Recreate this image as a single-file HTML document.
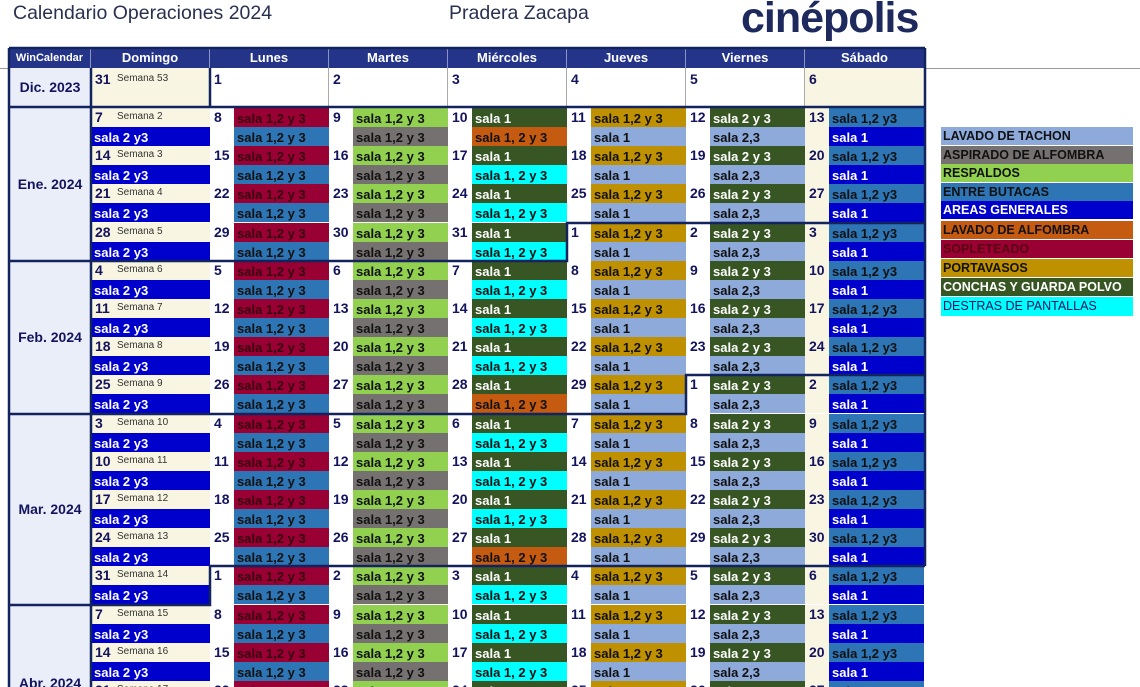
<!DOCTYPE html>
<html><head><meta charset="utf-8">
<style>
html,body{margin:0;width:1140px;height:687px;overflow:hidden}
body{background:#fff;font-family:"Liberation Sans",Arial,sans-serif;position:relative}
.a{position:absolute;box-sizing:border-box;white-space:nowrap;overflow:hidden}
.hd{background:#233489;color:#fff;font-weight:bold;font-size:13px;text-align:center;line-height:20px;border-right:1px solid #8a93c4}
.num{font-weight:bold;font-size:14px;color:#14145e;line-height:19px;padding-left:4px}
.bar{font-weight:bold;font-size:13px;line-height:21px;padding-left:3px}
.sem{font-size:10px;color:#333;line-height:15px;font-weight:normal}
.mon{background:#e9eef8;font-weight:bold;font-size:14px;color:#14145e;text-align:center}
.leg{left:941px;width:192px;height:18px;font-weight:bold;font-size:12.5px;line-height:19px;padding-left:2px}
</style></head><body>
<div class="a" style="left:13px;top:2px;font-size:19.5px;color:#2a3050">Calendario Operaciones 2024</div>
<div class="a" style="left:449px;top:2px;font-size:19.5px;color:#2a3050">Pradera Zacapa</div>
<div class="a" style="left:741px;top:-6px;font-size:43px;font-weight:bold;color:#1e2a5e;letter-spacing:-1px">cinépolis</div>
<div class="a" style="left:0;top:68px;width:1140px;height:1px;background:#999"></div>
<div id="cal"></div>
<div id="legend"></div>
<svg class="a" id="ov" style="left:0;top:0" width="1140" height="687"></svg>
<script>
const dayNames=["WinCalendar","Domingo","Lunes","Martes","Miércoles","Jueves","Viernes","Sábado"];
const weekStartDays=[7,14,21,28,4,11,18,25,3,10,17,24,31,7,14,21];
const weekNums=[2,3,4,5,6,7,8,9,10,11,12,13,14,15,16,17];
const weekMonthLen=[31,31,31,31,29,29,29,29,31,31,31,31,31,30,30,30];
const orangeWeeks=[0,7,11];
const monthLabels=[["Ene. 2024",0,4],["Feb. 2024",4,8],["Mar. 2024",8,13],["Abr. 2024",13,16]];
const topText=["sala 1,2 y 3","sala 1,2 y 3","sala 1","sala 1,2 y 3","sala 2 y 3","sala 1,2 y3"];
const topBg=["#990033","#92d050","#375623","#bf9000","#375623","#2e75b6"];
const topFg=["#3a0010","#111","#fff","#111","#fff","#111"];
const botText=["sala 1,2 y 3","sala 1,2 y 3","sala 1, 2 y 3","sala 1","sala 2,3","sala 1"];
const botBg=["#2e75b6","#767171","#00ffff","#8eaadb","#8eaadb","#0000cc"];
const botFg=["#111","#111","#111","#111","#111","#fff"];
const legNames=["LAVADO DE TACHON","ASPIRADO DE ALFOMBRA","RESPALDOS","ENTRE BUTACAS","AREAS GENERALES","LAVADO DE ALFOMBRA","SOPLETEADO","PORTAVASOS","CONCHAS Y GUARDA POLVO","DESTRAS DE PANTALLAS"];
const legBg=["#8eaadb","#767171","#92d050","#2e75b6","#0000cc","#c55a11","#990033","#bf9000","#375623","#00ffff"];
const legFg=["#111","#111","#111","#111","#fff","#111","#5a0010","#111","#fff","#14145e"];
const legTop=[127,146,164,183,201,221,240,259,278,297];

const cal=document.getElementById('cal');
function box(parent,cls,x,y,w,h,txt,bg,fg){const d=document.createElement('div');d.className='a '+cls;d.style.left=x+'px';d.style.top=y+'px';d.style.width=w+'px';d.style.height=h+'px';if(bg)d.style.background=bg;if(fg)d.style.color=fg;if(txt!=null)d.textContent=txt;parent.appendChild(d);return d;}
const colX=[9,91,210,329,448,567,686,805,925];
dayNames.forEach((n,i)=>{const d=box(cal,'hd',colX[i],48,colX[i+1]-colX[i],20,n);


if(i==0)d.style.fontSize='11px';});
let d=box(cal,'mon',9,68,82,39,'Dic. 2023');d.style.lineHeight='39px';


for(let c=1;c<8;c++){const cell=box(cal,'num',colX[c],68,colX[c+1]-colX[c],39,c==1?'31':String(c-1),(c==1||c==7)?'#f8f6e2':'#fff');


cell.style.borderRight='1px solid #aaa';cell.style.lineHeight='22px';
if(c==1){box(cell,'sem',26,3,80,14,'Semana 53');}}
const Y0=108,WH=38.2;
weekStartDays.forEach((sd,w)=>{
  const y=Math.round(Y0+w*WH);
  const sun=box(cal,'num',91,y,119,19,String(sd),'#f8f6e2');
  
  
  box(sun,'sem',26,1,80,14,'Semana '+weekNums[w]);
  const sb=box(cal,'bar',91,y+19,119,19,'sala 2 y3','#0000cc','#fff');
  
  
  let day=sd, len=weekMonthLen[w];
  for(let c=0;c<6;c++){
    day++; if(day>len) {day=1;len=99;}
    const x=colX[c+2];
    const nb=box(cal,'num',x,y,24,38,String(day),c==5?'#f8f6e2':'#fff');
    
    
    const t=box(cal,'bar',x+24,y,95,19,topText[c],topBg[c],topFg[c]);
    
    
    let bb=botBg[c];
    if(c==2&&orangeWeeks.includes(w))bb='#c55a11';
    const b=box(cal,'bar',x+24,y+19,95,19,botText[c],bb,botFg[c]);
    
    
  }
});
monthLabels.forEach(([n,a,b])=>{const y1=Math.round(Y0+a*WH),y2=Math.round(Y0+b*WH);
const m=box(cal,'mon',9,y1,82,Math.min(y2,700)-y1,n);m.style.lineHeight=(y2-y1)+'px';
if(b==16){m.style.lineHeight='';m.style.paddingTop='70px';}

});
const lg=document.getElementById('legend');
legNames.forEach((n,i)=>{const l=box(lg,'leg',941,legTop[i],192,i==9?19:18,n,legBg[i],legFg[i]);


if(i==9)l.style.fontWeight='normal';});
const ov=document.getElementById('ov');
const R=i=>Math.round(Y0+i*WH);
const paths=[
 "M9 48 H925 M9 48 V687 M925 48 V"+R(12),
 "M9 107 H925 M210 68 V107",
 "M9 "+R(4)+" H567 V"+R(3)+" H925",
 "M9 "+R(8)+" H686 V"+R(7)+" H925",
 "M9 "+R(13)+" H210 V"+R(12)+" H925",
 "M91 68 V687"
];
paths.forEach(p=>{const e=document.createElementNS('http://www.w3.org/2000/svg','path');e.setAttribute('d',p);e.setAttribute('fill','none');e.setAttribute('stroke','#13235e');e.setAttribute('stroke-width','2.5');


ov.appendChild(e);});
</script>
</body></html>
